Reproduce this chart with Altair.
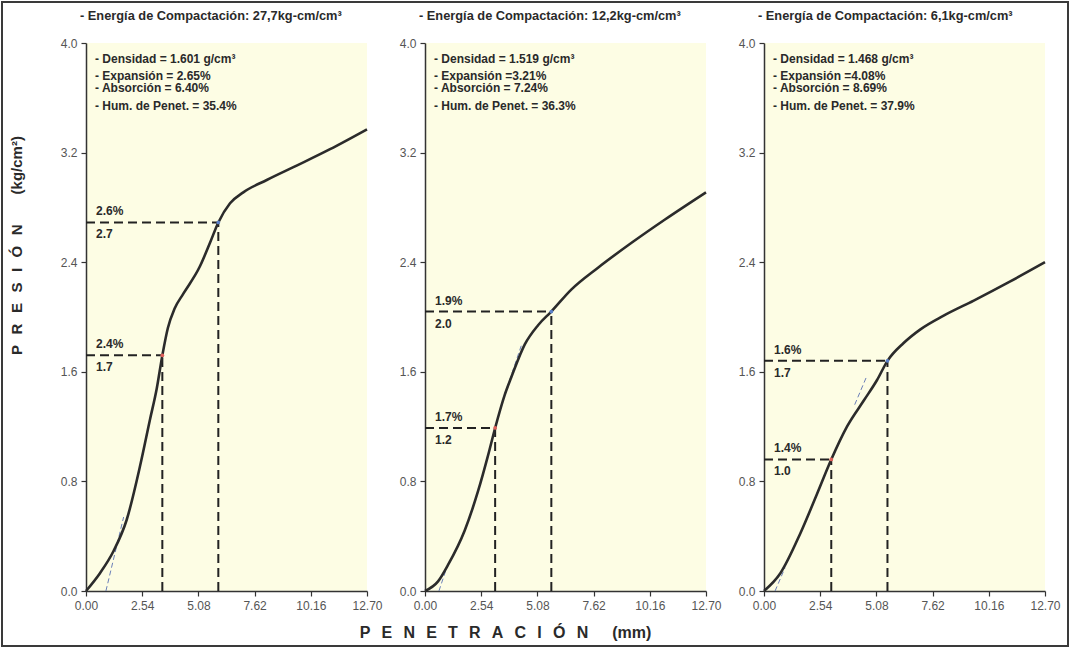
import altair as alt
import pandas as pd

FONT = "Liberation Sans"

# ---------------- data ----------------
titles = [
    "- Energía de Compactación: 27,7kg-cm/cm³",
    "- Energía de Compactación: 12,2kg-cm/cm³",
    "- Energía de Compactación: 6,1kg-cm/cm³",
]
info_1 = ["- Densidad = 1.601 g/cm³", "- Expansión = 2.65%", "- Absorción = 6.40%", "- Hum. de Penet. = 35.4%"]
info_2 = ["- Densidad = 1.519 g/cm³", "- Expansión =3.21%", "- Absorción = 7.24%", "- Hum. de Penet. = 36.3%"]
info_3 = ["- Densidad = 1.468 g/cm³", "- Expansión =4.08%", "- Absorción = 8.69%", "- Hum. de Penet. = 37.9%"]

x_ticks = [0.00, 2.54, 5.08, 7.62, 10.16, 12.70]
y_ticks = [0.0, 0.8, 1.6, 2.4, 3.2, 4.0]

pen_1 = [0.00, 0.63, 1.24, 1.84, 2.44, 2.89, 3.20, 3.45, 3.70, 4.00, 4.40, 5.15, 5.60, 5.98, 6.51, 7.11, 8.17, 9.52, 11.03, 12.70]
pres_1 = [0.00, 0.13, 0.29, 0.52, 0.91, 1.25, 1.48, 1.72, 1.92, 2.06, 2.17, 2.37, 2.54, 2.69, 2.83, 2.91, 3.00, 3.105, 3.225, 3.37]

pen_2 = [0.00, 0.59, 1.04, 1.79, 2.40, 2.85, 3.17, 3.60, 3.90, 4.51, 5.11, 5.71, 6.61, 7.82, 9.32, 10.83, 12.70]
pres_2 = [0.00, 0.07, 0.19, 0.44, 0.73, 0.99, 1.19, 1.43, 1.56, 1.80, 1.94, 2.04, 2.20, 2.36, 2.54, 2.71, 2.91]

pen_3 = [0.00, 0.74, 1.64, 2.40, 3.04, 3.75, 4.51, 5.11, 5.58, 6.31, 7.07, 8.12, 9.48, 11.13, 12.70]
pres_3 = [0.00, 0.13, 0.42, 0.71, 0.96, 1.20, 1.39, 1.54, 1.68, 1.81, 1.91, 2.01, 2.12, 2.26, 2.40]

cbr_x_1 = [3.45, 5.98]; cbr_y_1 = [1.72, 2.69]; cbr_pct_1 = ["2.4%", "2.6%"]; cbr_val_1 = ["1.7", "2.7"]
cbr_x_2 = [3.17, 5.71]; cbr_y_2 = [1.19, 2.04]; cbr_pct_2 = ["1.7%", "1.9%"]; cbr_val_2 = ["1.2", "2.0"]
cbr_x_3 = [3.04, 5.58]; cbr_y_3 = [0.96, 1.68]; cbr_pct_3 = ["1.4%", "1.6%"]; cbr_val_3 = ["1.0", "1.7"]
cbr_kind = ["0.1", "0.2"]

tan_x_1 = [0.90, 1.70]; tan_y_1 = [0.00, 0.54]; tan_seg_1 = [0, 0]
tan_x_2 = [0.63, 0.98, 3.70, 4.35]; tan_y_2 = [0.00, 0.17, 1.48, 1.79]; tan_seg_2 = [0, 0, 1, 1]
tan_x_3 = [0.50, 0.95, 4.10, 4.65]; tan_y_3 = [0.00, 0.17, 1.36, 1.57]; tan_seg_3 = [0, 0, 1, 1]

# ---------------- style ----------------
W, H = 281, 548
GAP = 58
INFO_DY = [16, 33, 45, 63]
SP = "\u2002\u2009"
Y_TITLE = SP.join("PRESIÓN") + "\u2002\u2002\u2002\u2002(kg/cm²)"
X_TITLE = SP.join("PENETRACIÓN") + "\u2002\u2002\u2002(mm)"


def panel(k, title, info, px, py, cx, cy, pct, val, tx, ty, tseg):
    xs = alt.Scale(domain=[0, 12.7], nice=False, zero=False)
    ys = alt.Scale(domain=[0, 4], nice=False)
    xa = dict(values=x_ticks, format=".2f", labelFlush=False, labelOverlap=False, grid=False,
              tickSize=5, labelPadding=4, labelFontSize=12, labelColor="#555", labelFont=FONT,
              domainColor="#333", domainWidth=1.5, tickColor="#333", tickWidth=1.2)
    ya = dict(values=y_ticks, format=".1f", labelOverlap=False, grid=False,
              tickSize=5, labelPadding=4, labelFontSize=12, labelColor="#555", labelFont=FONT,
              domainColor="#333", domainWidth=1.5, tickColor="#333", tickWidth=1.2)
    if k == 1:
        xa.update(titleX=80, titleY=41, titleAlign="center", titleBaseline="middle",
                  titleFontSize=16, titleFontWeight="bold", titleFont=FONT, titleColor="#2a2a2a")
        xtitle = X_TITLE
    else:
        xtitle = None
    if k == 0:
        ya.update(titleX=-70, titleY=202, titleAngle=270, titleAlign="center", titleBaseline="middle",
                  titleFontSize=15, titleFontWeight="bold", titleFont=FONT, titleColor="#2a2a2a")
        ytitle = Y_TITLE
    else:
        ytitle = None

    def X(f):
        return alt.X(f, type="quantitative", scale=xs, axis=alt.Axis(**xa), title=xtitle)

    def Y(f):
        return alt.Y(f, type="quantitative", scale=ys, axis=alt.Axis(**ya), title=ytitle)

    curve = pd.DataFrame({"x": px, "y": py})
    pts = pd.DataFrame({"x": cx, "y": cy, "z": [0.0] * len(cx), "pct": pct, "val": val, "kind": cbr_kind})
    tan = pd.DataFrame({"x": tx, "y": ty, "seg": tseg})

    layers = []
    layers.append(alt.Chart(pts).mark_rule(color="#222", strokeWidth=2, strokeDash=[9, 5]).encode(
        x=X("z"), x2="x", y=Y("y")))
    layers.append(alt.Chart(pts).mark_rule(color="#222", strokeWidth=2, strokeDash=[9, 5]).encode(
        x=X("x"), y=Y("z"), y2="y"))
    layers.append(alt.Chart(tan).mark_line(color="#6a7fb8", strokeWidth=1, strokeDash=[5, 3]).encode(
        x=X("x"), y=Y("y"), detail="seg:N"))
    layers.append(alt.Chart(curve).mark_line(color="#2b2b2b", strokeWidth=2.6, interpolate="monotone").encode(
        x=X("x"), y=Y("y")))
    layers.append(alt.Chart(pts).mark_point(filled=True, size=14, opacity=1).encode(
        x=X("x"), y=Y("y"),
        color=alt.Color("kind:N", scale=alt.Scale(domain=cbr_kind, range=["#e0605a", "#5a80c8"]), legend=None)))
    layers.append(alt.Chart(pts).mark_text(align="left", baseline="middle", dy=-11, font=FONT, fontSize=12,
                                           fontWeight="bold", color="#2a2a2a").encode(
        x=alt.value(10), y=Y("y"), text="pct:N"))
    layers.append(alt.Chart(pts).mark_text(align="left", baseline="middle", dy=12, font=FONT, fontSize=12,
                                           fontWeight="bold", color="#2a2a2a").encode(
        x=alt.value(10), y=Y("y"), text="val:N"))
    for line, dy in zip(info, INFO_DY):
        layers.append(alt.Chart(pd.DataFrame({"t": [line]})).mark_text(
            align="left", baseline="middle", font=FONT, fontSize=12, fontWeight="bold", color="#2a2a2a").encode(
            x=alt.value(9), y=alt.value(dy), text="t:N"))
    layers.append(alt.Chart(pd.DataFrame({"t": [title]})).mark_text(
        align="left", baseline="middle", font=FONT, fontSize=12.8, fontWeight="bold", color="#2a2a2a").encode(
        x=alt.value(-6), y=alt.value(-27), text="t:N"))
    if k == 0:
        layers.append(alt.Chart(pd.DataFrame({"a": [0]})).mark_rect(
            fillOpacity=0, stroke="#3a3a3a", strokeWidth=2).encode(
            x=alt.value(-84), x2=alt.value(982), y=alt.value(-41), y2=alt.value(603)))
    return alt.layer(*layers).properties(width=W, height=H)


p1 = panel(0, titles[0], info_1, pen_1, pres_1, cbr_x_1, cbr_y_1, cbr_pct_1, cbr_val_1, tan_x_1, tan_y_1, tan_seg_1)
p2 = panel(1, titles[1], info_2, pen_2, pres_2, cbr_x_2, cbr_y_2, cbr_pct_2, cbr_val_2, tan_x_2, tan_y_2, tan_seg_2)
p3 = panel(2, titles[2], info_3, pen_3, pres_3, cbr_x_3, cbr_y_3, cbr_pct_3, cbr_val_3, tan_x_3, tan_y_3, tan_seg_3)

chart = alt.hconcat(p1, p2, p3, spacing=GAP, bounds="flush").properties(
    padding=1, background="white"
).configure_view(fill="#fdfde4", strokeWidth=0)

chart.save("out.html", embed_options={"renderer": "svg", "actions": False})
